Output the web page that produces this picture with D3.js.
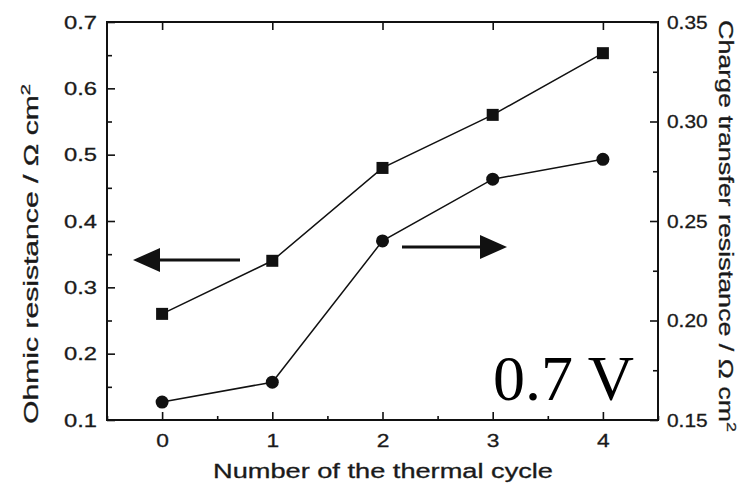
<!DOCTYPE html>
<html>
<head>
<meta charset="utf-8">
<script src="https://cdn.jsdelivr.net/npm/d3@7"></script>
<style>
  body { margin: 0; background: #fff; }
  svg text { font-family: "Liberation Sans", Arial, sans-serif; fill: #1a1a1a; }
</style>
</head>
<body>
<svg id="chart" width="752" height="492"></svg>
<script>
// thermal cycle number
const cycles = [0, 1, 2, 3, 4]
// ohmic resistance, left axis (squares)
const ohmic = [0.26, 0.34, 0.48, 0.56, 0.653]
// charge transfer resistance, right axis (circles)
const chargeTransfer = [0.159, 0.169, 0.240, 0.271, 0.281]

const xTicks = [0, 1, 2, 3, 4]
const leftTicks = [0.1, 0.2, 0.3, 0.4, 0.5, 0.6, 0.7]
const rightTicks = [0.15, 0.20, 0.25, 0.30, 0.35]

const svg = d3.select("#chart")
const plotLeft = 107, plotRight = 658, plotTop = 22, plotBottom = 420
const ink = "#111"

const x = d3.scaleLinear().domain([-0.5, 4.5]).range([plotLeft, plotRight])
const yL = d3.scaleLinear().domain([0.1, 0.7]).range([plotBottom, plotTop])
const yR = d3.scaleLinear().domain([0.15, 0.35]).range([plotBottom, plotTop])

function styleAxis(g) {
    g.select(".domain").remove()
    g.selectAll("line").attr("stroke", ink).attr("stroke-width", 1.6)
    g.selectAll("text")
      .attr("font-size", "19px")
      .attr("fill", "#1a1a1a")
      .attr("stroke", "#1a1a1a").attr("stroke-width", 0.3)
}

// minor ticks
svg.append("g").attr("transform", `translate(0,${plotBottom})`)
  .call(d3.axisTop(x).tickValues([-0.5, 0.5, 1.5, 2.5, 3.5, 4.5]).tickSize(4).tickFormat(""))
  .call(styleAxis)
svg.append("g").attr("transform", `translate(${plotLeft},0)`)
  .call(d3.axisRight(yL).tickValues([0.15, 0.25, 0.35, 0.45, 0.55, 0.65]).tickSize(5).tickFormat(""))
  .call(styleAxis)
svg.append("g").attr("transform", `translate(${plotRight},0)`)
  .call(d3.axisLeft(yR).tickValues([0.175, 0.225, 0.275, 0.325]).tickSize(5).tickFormat(""))
  .call(styleAxis)

// major ticks + labels
const gx = svg.append("g").attr("transform", `translate(0,${plotBottom})`)
  .call(d3.axisBottom(x).tickValues(xTicks).tickSize(-8).tickPadding(14).tickFormat(d3.format("d")))
  .call(styleAxis)
gx.selectAll("text").attr("transform", "scale(1.2,1)")

svg.append("g").attr("transform", `translate(0,${plotTop})`)
  .call(d3.axisBottom(x).tickValues(xTicks).tickSize(8).tickFormat(""))
  .call(styleAxis)

const gl = svg.append("g").attr("transform", `translate(${plotLeft},0)`)
  .call(d3.axisLeft(yL).tickValues(leftTicks).tickSize(-8).tickPadding(10).tickFormat(d3.format(".1f")))
  .call(styleAxis)
gl.selectAll("text").attr("x", -10 / 1.25).attr("transform", "scale(1.25,1)")

const gr = svg.append("g").attr("transform", `translate(${plotRight},0)`)
  .call(d3.axisRight(yR).tickValues(rightTicks).tickSize(-8).tickPadding(9).tickFormat(d3.format(".2f")))
  .call(styleAxis)
gr.selectAll("text").attr("x", 9 / 1.1).attr("transform", "scale(1.1,1)")

// frame
svg.append("rect")
  .attr("x", plotLeft).attr("y", plotTop)
  .attr("width", plotRight - plotLeft).attr("height", plotBottom - plotTop)
  .attr("fill", "none").attr("stroke", ink).attr("stroke-width", 2)

// series
const lineL = d3.line().x((d, i) => x(cycles[i])).y(d => yL(d))
const lineR = d3.line().x((d, i) => x(cycles[i])).y(d => yR(d))

svg.append("path").datum(ohmic).attr("d", lineL)
  .attr("fill", "none").attr("stroke", ink).attr("stroke-width", 1.5)
svg.append("path").datum(chargeTransfer).attr("d", lineR)
  .attr("fill", "none").attr("stroke", ink).attr("stroke-width", 1.5)

svg.selectAll(".sq").data(ohmic).enter().append("rect")
  .attr("class", "sq")
  .attr("x", (d, i) => x(cycles[i]) - 6)
  .attr("y", d => yL(d) - 6)
  .attr("width", 12).attr("height", 12)
  .attr("fill", ink)

svg.selectAll(".dot").data(chargeTransfer).enter().append("circle")
  .attr("class", "dot")
  .attr("cx", (d, i) => x(cycles[i]))
  .attr("cy", d => yR(d))
  .attr("r", 6.5)
  .attr("fill", ink)

// arrows pointing to the matching axis
function arrow(x1, x2, y) {
    const dir = x2 > x1 ? 1 : -1
    const headLen = 27, headHalf = 12
    svg.append("line")
      .attr("x1", x1).attr("y1", y)
      .attr("x2", x2 - dir * headLen).attr("y2", y)
      .attr("stroke", ink).attr("stroke-width", 3)
    svg.append("path")
      .attr("d", `M${x2},${y} L${x2 - dir * headLen},${y - headHalf} L${x2 - dir * headLen},${y + headHalf} Z`)
      .attr("fill", ink)
}
arrow(240, 133, 260)
arrow(402, 507, 247)

// voltage label
svg.append("text")
  .attr("x", 493).attr("y", 400)
  .style("font-family", "'Liberation Serif', 'Times New Roman', serif")
  .attr("font-size", "64px")
  .style("fill", "#000")
  .text("0.7 V")

// axis titles
svg.append("text")
  .attr("x", 383).attr("y", 478)
  .attr("text-anchor", "middle")
  .attr("font-size", "19.5px")
  .attr("stroke", "#1a1a1a").attr("stroke-width", 0.3)
  .attr("textLength", 340).attr("lengthAdjust", "spacingAndGlyphs")
  .text("Number of the thermal cycle")

const tl = svg.append("text")
  .attr("transform", "translate(38,254) rotate(-90)")
  .attr("text-anchor", "middle")
  .attr("font-size", "19.5px")
  .attr("stroke", "#1a1a1a").attr("stroke-width", 0.3)
  .attr("textLength", 340).attr("lengthAdjust", "spacingAndGlyphs")
tl.append("tspan").text("Ohmic resistance / \u03a9 cm")
tl.append("tspan").attr("dy", -8).attr("font-size", "13px").text("2")

const tr = svg.append("text")
  .attr("transform", "translate(719,226) rotate(90)")
  .attr("text-anchor", "middle")
  .attr("font-size", "19.5px")
  .attr("stroke", "#1a1a1a").attr("stroke-width", 0.3)
  .attr("textLength", 412).attr("lengthAdjust", "spacingAndGlyphs")
tr.append("tspan").text("Charge transfer resistance / \u03a9 cm")
tr.append("tspan").attr("dy", -8).attr("font-size", "13px").text("2")
</script>
</body>
</html>
